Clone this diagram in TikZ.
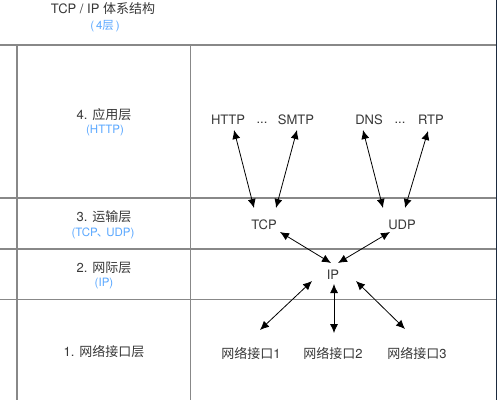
\documentclass[tikz,border=0pt]{standalone}
\usepackage{fontspec}
\setmainfont{TeX Gyre Heros}
\newfontfamily\cjk{Noto Sans CJK SC}
\usetikzlibrary{arrows.meta,calc}
\definecolor{txt}{HTML}{383838}
\definecolor{lbl}{HTML}{5AA8FF}
\definecolor{grid}{HTML}{888888}
\definecolor{edge}{HTML}{1B2A3E}
\tikzset{
  main/.style={font=\fontsize{13}{14}\selectfont, text=txt, inner sep=0pt},
  sub/.style={font=\fontsize{11.5}{12}\selectfont, text=lbl, inner sep=0pt},
  item/.style={font=\fontsize{13}{14}\selectfont, text=txt, inner sep=1pt},
  gridline/.style={draw=grid, line width=1.4pt},
  dbl/.style={{Latex[length=9pt,width=8pt]}-{Latex[length=9pt,width=8pt]}, line width=0.8pt, black}
}
\begin{document}
\begin{tikzpicture}[x=1pt,y=-1pt]
\useasboundingbox (0,0) rectangle (497,400);
\fill[white] (0,0) rectangle (497,400);
\fill[edge] (495.5,0) rectangle (497,400);
% grid
\draw[gridline] (0,45) -- (495.5,45);
\draw[gridline] (0,198) -- (495.5,198);
\draw[gridline] (0,249) -- (495.5,249);
\draw[gridline] (0,299.5) -- (495.5,299.5);
\draw[gridline] (17,45) -- (17,400);
\draw[gridline] (190.5,45) -- (190.5,400);
% left column
\node[main] (title) at (103,9) {TCP / IP {\cjk 体系结构}};
\node[sub] (titlesub) at (105,26) {(\,4{\cjk 层}\,)};
\node[main] (l4) at (104,115) {4. {\cjk 应用层}};
\node[sub] (l4s) at (105,131) {(HTTP)};
\node[main] (l3) at (104,217) {3. {\cjk 运输层}};
\node[sub] (l3s) at (103,233) {(TCP{\cjk\kern-1pt、\kern-2pt}UDP)};
\node[main] (l2) at (104,268) {2. {\cjk 网际层}};
\node[sub] (l2s) at (104,284) {(IP)};
\node[main] (l1) at (104,352) {1. {\cjk 网络接口层}};
% right column
\node[item] (http) at (228,120) {HTTP};
\node[item] (d1) at (262,123) {...};
\node[item] (smtp) at (296,120) {SMTP};
\node[item] (dns) at (369,120) {DNS};
\node[item] (d2) at (400,123) {...};
\node[item] (rtp) at (431,120) {RTP};
\node[item] (tcp) at (264,225) {TCP};
\node[item] (udp) at (402,225) {UDP};
\node[item] (ip) at (333,275) {IP};
\node[item] (n1) at (251,353) {{\cjk 网络接口}1};
\node[item] (n2) at (333,353) {{\cjk 网络接口}2};
\node[item] (n3) at (417,353) {{\cjk 网络接口}3};
% connectors
\draw[dbl] ($(http)+(6,10)$) -- ($(tcp)+(-10,-17)$);
\draw[dbl] ($(smtp)+(1,10)$) -- ($(tcp)+(12,-17)$);
\draw[dbl] ($(dns)+(-6,10)$) -- ($(udp)+(-19,-17)$);
\draw[dbl] ($(rtp)+(-3,11)$) -- ($(udp)+(3,-17)$);
\draw[dbl] ($(tcp)+(16,7)$) -- ($(ip)+(-2,-12)$);
\draw[dbl] ($(udp)+(-12,7)$) -- ($(ip)+(5,-12)$);
\draw[dbl] ($(ip)+(-21,6)$) -- ($(n1)+(9,-23)$);
\draw[dbl] ($(ip)+(1,9)$) -- ($(n2)+(1,-20)$);
\draw[dbl] ($(ip)+(23,6)$) -- ($(n3)+(-12,-24)$);
\end{tikzpicture}
\end{document}
